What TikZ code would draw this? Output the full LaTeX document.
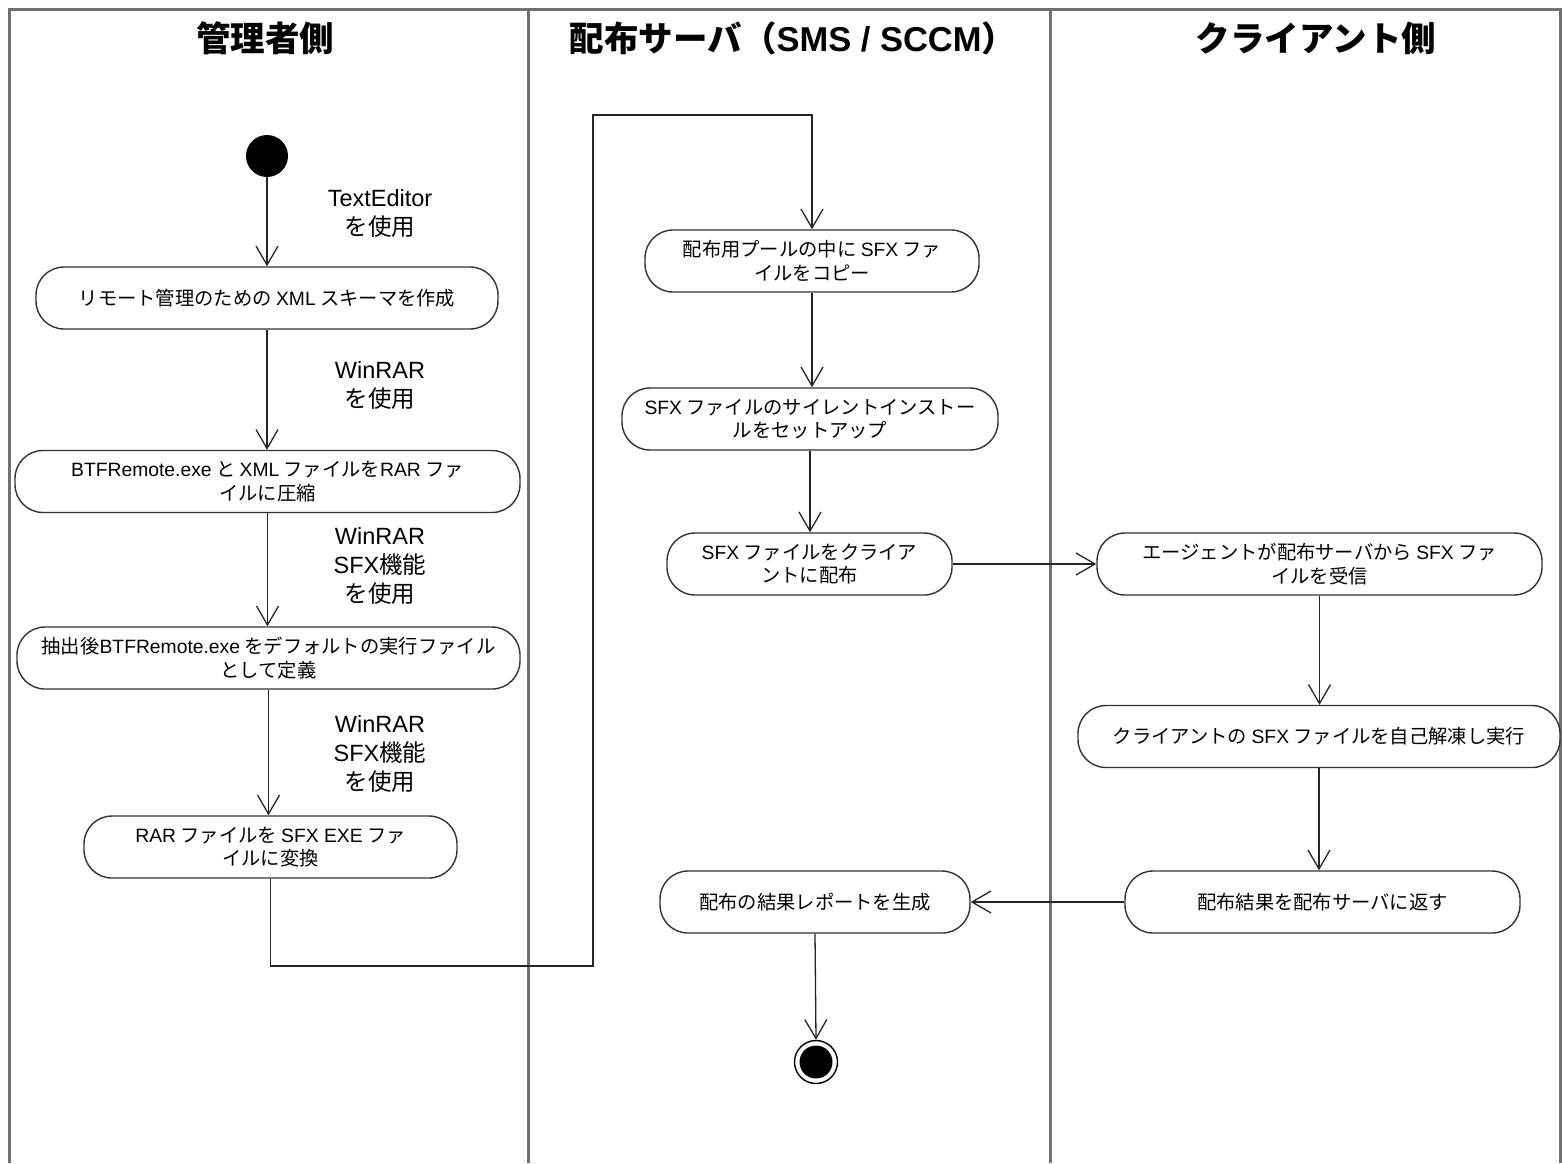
\documentclass[tikz,border=0pt]{standalone}
\usepackage{fontspec}
\setmainfont{Noto Sans CJK JP}
\newfontfamily\latfont{Liberation Sans}
\newcommand\latn[1]{{\latfont #1}}
\usetikzlibrary{arrows.meta}
\definecolor{lanegray}{HTML}{707070}
\definecolor{boxline}{HTML}{333333}
\begin{document}
\begin{tikzpicture}[x=1pt,y=-1pt,
  lane/.style={draw=lanegray,line width=3pt},
  act/.style={draw=boxline,line width=1.4pt,rounded corners=28pt,fill=white,
    minimum height=62pt,inner sep=0pt,align=center,
    font=\fontsize{19.3pt}{23.5pt}\selectfont},
  lbl/.style={align=center,inner sep=0pt,font=\fontsize{23.5pt}{29pt}\selectfont},
  hdr/.style={inner sep=0pt,font=\fontsize{34.5pt}{36pt}\selectfont\bfseries},
  flow/.style={draw=black!85,line width=1.3pt,-{Straight Barb[length=19pt,width=22pt,line width=1.3pt]}},
  plain/.style={draw=black!85,line width=1.3pt}]
\useasboundingbox (0,0) rectangle (1562,1163);
\fill[white] (0,0) rectangle (1562,1163);
% swimlanes
\draw[lane] (9,1163) -- (9,9) -- (1560,9) -- (1560,1163);
\draw[lane] (528,9) -- (528,1163);
\draw[lane] (1050,9) -- (1050,1163);
\node[hdr] (h1) at (265,38) {管理者側};
\node[hdr] (h2) at (793,38) {配布サーバ（\latn{SMS / SCCM}）};
\node[hdr] (h3) at (1316,38) {クライアント側};
% start / end
\node[circle,fill=black,minimum size=42pt,inner sep=0pt] (start) at (267,156) {};
\node[circle,draw=black,line width=1.4pt,fill=white,minimum size=43pt,inner sep=0pt] (end) at (816,1062) {};
\fill[black] (end.center) circle (16.5pt);
% activities
\node[act,minimum width=462pt] (n1) at (267,298) {リモート管理のための \latn{XML} スキーマを作成};
\node[act,minimum width=505pt] (n2) at (267.5,481.5) {\latn{BTFRemote.exe} と \latn{XML} ファイルを\latn{RAR} ファ\\イルに圧縮};
\node[act,minimum width=503pt] (n3) at (268.5,658) {抽出後\latn{BTFRemote.exe} をデフォルトの実行ファイル\\として定義};
\node[act,minimum width=373pt] (n4) at (270.5,847) {\latn{RAR} ファイルを \latn{SFX EXE} ファ\\イルに変換};
\node[act,minimum width=334pt] (n5) at (812,261) {配布用プールの中に \latn{SFX} ファ\\イルをコピー};
\node[act,minimum width=376pt] (n6) at (810,419) {\latn{SFX} ファイルのサイレントインストー\\ルをセットアップ};
\node[act,minimum width=285pt] (n7) at (809.5,564) {\latn{SFX} ファイルをクライア\\ントに配布};
\node[act,minimum width=445pt] (n8) at (1319.5,564) {エージェントが配布サーバから \latn{SFX} ファ\\イルを受信};
\node[act,minimum width=482pt] (n9) at (1319,736.5) {クライアントの \latn{SFX} ファイルを自己解凍し実行};
\node[act,minimum width=395pt] (n10) at (1322.5,902) {配布結果を配布サーバに返す};
\node[act,minimum width=310pt] (n11) at (815,902) {配布の結果レポートを生成};
% labels
\node[lbl] (l1) at (380,213) {\latn{TextEditor}\\を使用};
\node[lbl] (l2) at (380,385) {\latn{WinRAR}\\を使用};
\node[lbl] (l3) at (380,566) {\latn{WinRAR}\\\latn{SFX}機能\\を使用};
\node[lbl] (l4) at (380,754) {\latn{WinRAR}\\\latn{SFX}機能\\を使用};
% connectors
\coordinate (b1) at (593,966);
\coordinate (b2) at (593,115);
\draw[flow] (start.south) -- (start.south |- n1.north);
\draw[flow] (n1.south) -- (n1.south |- n2.north);
\draw[flow] (n2.south) -- (n2.south |- n3.north);
\draw[flow] (n3.south) -- (n3.south |- n4.north);
\draw[flow] (n4.south) |- (b1) -- (b2) -| (n5.north);
\draw[flow] (n5.south) -- (n5.south |- n6.north);
\draw[flow] (n6.south) -- (n6.south |- n7.north);
\draw[flow] (n7.east) -- (n8.west);
\draw[flow] (n8.south) -- (n8.south |- n9.north);
\draw[flow] (n9.south) -- (n9.south |- n10.north);
\draw[flow] (n10.west) -- (n11.east);
\draw[flow] (n11.south) -- (end.north);
\end{tikzpicture}
\end{document}
